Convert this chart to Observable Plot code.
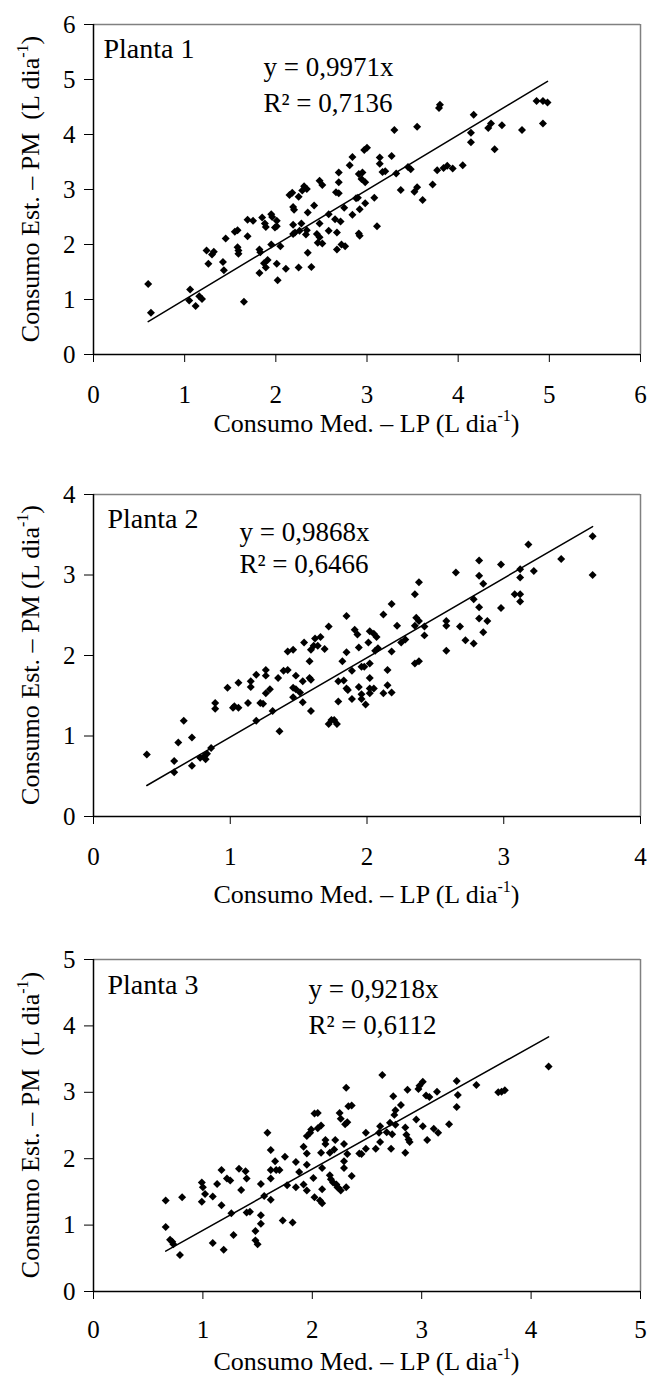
<!DOCTYPE html>
<html><head><meta charset="utf-8">
<script src="https://cdn.jsdelivr.net/npm/d3@7"></script>
<script src="https://cdn.jsdelivr.net/npm/@observablehq/plot@0.6"></script>
<style>
body{margin:0;background:#fff;}
#wrap{width:649px;}
svg{display:block;}
</style></head><body><div id="wrap"></div>
<script>
// Planta 1
const x1=[0.60,0.63,1.06,1.05,1.12,1.16,1.19,1.24,1.26,1.30,1.32,1.42,1.43,1.45,1.55,1.58,1.58,1.59,1.59,1.65,1.69,1.69,1.75,1.82,1.82,1.83,1.85,1.88,1.89,1.87,1.89,1.91,1.95,1.96,1.95,1.99,2.01,2.01,2.05,2.01,2.02,2.11,2.15,2.18,2.19,2.20,2.19,2.19,2.21,2.25,2.25,2.26,2.28,2.29,2.31,2.34,2.33,2.34,2.35,2.35,2.39,2.42,2.45,2.46,2.48,2.48,2.48,2.51,2.51,2.58,2.58,2.65,2.66,2.69,2.69,2.69,2.67,2.67,2.71,2.72,2.75,2.76,2.81,2.84,2.84,2.88,2.90,2.91,2.92,2.91,2.94,2.95,2.98,2.98,2.97,3.00,2.92,3.08,3.11,3.14,3.14,3.17,3.20,3.27,3.30,3.32,3.37,3.45,3.48,3.52,3.55,3.55,3.61,3.72,3.77,3.79,3.80,3.84,3.88,3.94,4.05,4.14,4.14,4.17,4.33,4.36,4.40,4.48,4.70,4.86,4.93,4.98,4.93];
const y1=[1.28,0.76,1.18,0.98,0.88,1.06,1.01,1.89,1.65,1.82,1.87,1.68,1.53,2.11,2.23,2.26,1.95,1.83,1.89,0.96,2.45,2.15,2.43,1.48,1.91,1.86,2.49,2.38,2.32,1.66,1.58,1.72,2.55,2.50,2.00,2.31,2.43,2.33,1.97,1.65,1.35,1.56,2.90,2.94,2.68,2.63,2.36,2.19,2.22,2.87,1.58,2.25,2.38,2.98,3.06,3.01,2.18,2.26,2.58,1.85,1.59,2.71,2.19,2.03,2.38,2.13,3.16,3.08,2.02,2.55,2.25,2.46,2.95,2.93,3.31,3.13,2.22,1.91,2.42,2.00,2.67,1.97,3.44,3.59,2.54,2.84,2.85,3.28,2.16,2.20,3.19,3.31,3.13,2.75,3.72,3.76,2.64,2.85,2.33,3.58,3.47,3.32,3.33,3.61,4.08,3.29,2.99,3.41,3.37,2.96,3.04,4.14,2.81,3.09,3.35,4.48,4.54,3.39,3.43,3.38,3.44,3.86,4.03,4.36,4.12,4.20,3.73,4.17,4.08,4.61,4.61,4.58,4.20];
// Planta 2
const x2=[0.39,0.59,0.59,0.62,0.66,0.72,0.72,0.78,0.81,0.82,0.83,0.86,0.89,0.89,0.98,1.02,1.03,1.06,1.06,1.13,1.15,1.15,1.19,1.19,1.22,1.24,1.26,1.26,1.26,1.29,1.31,1.36,1.35,1.39,1.42,1.42,1.46,1.46,1.46,1.48,1.48,1.51,1.53,1.53,1.54,1.58,1.58,1.59,1.59,1.59,1.61,1.62,1.64,1.66,1.69,1.72,1.72,1.74,1.76,1.78,1.79,1.79,1.82,1.83,1.85,1.85,1.85,1.86,1.89,1.89,1.91,1.93,1.94,1.94,1.96,1.96,1.96,1.98,1.99,2.01,2.02,2.02,2.02,2.02,2.02,2.05,2.05,2.06,2.07,2.08,2.12,2.12,2.15,2.15,2.18,2.18,2.18,2.22,2.25,2.28,2.35,2.35,2.35,2.36,2.38,2.38,2.38,2.42,2.42,2.58,2.58,2.58,2.65,2.68,2.72,2.78,2.78,2.82,2.82,2.82,2.82,2.85,2.85,2.88,2.98,2.98,3.08,3.12,3.12,3.12,3.12,3.18,3.22,3.42,3.65,3.65];
const y2=[0.77,0.69,0.55,0.92,1.19,0.98,0.63,0.73,0.75,0.71,0.78,0.85,1.41,1.34,1.60,1.35,1.37,1.66,1.35,1.41,1.61,1.68,1.76,1.19,1.41,1.40,1.82,1.75,1.53,1.58,1.31,1.06,1.72,1.81,1.82,2.05,2.07,1.60,1.48,1.75,1.58,1.54,1.42,1.68,2.16,1.93,1.72,1.70,1.31,2.07,2.12,2.21,2.12,2.23,2.08,2.36,1.15,1.20,1.20,1.15,1.43,1.68,1.93,1.69,2.49,2.04,1.59,1.57,1.46,1.81,2.32,2.26,2.10,1.61,1.52,1.46,1.86,1.86,1.39,2.16,2.30,1.90,1.72,1.59,1.53,1.59,2.27,2.06,2.23,2.09,2.51,1.53,1.82,1.63,2.64,2.05,1.54,2.37,2.16,2.20,2.76,2.37,1.90,2.47,2.91,2.43,1.93,2.25,2.36,2.43,2.37,2.06,3.03,2.36,2.19,2.70,2.15,3.18,2.99,2.60,2.46,2.29,2.89,2.43,3.13,2.59,2.76,3.07,2.97,2.76,2.67,3.38,3.05,3.20,3.48,3.00];
// Planta 3
const x3=[0.66,0.66,0.70,0.72,0.73,0.79,0.81,0.99,1.00,0.99,1.02,1.09,1.09,1.13,1.17,1.17,1.19,1.22,1.25,1.26,1.28,1.33,1.35,1.39,1.40,1.40,1.43,1.48,1.48,1.50,1.53,1.53,1.53,1.56,1.59,1.62,1.62,1.62,1.62,1.66,1.67,1.70,1.73,1.75,1.77,1.82,1.85,1.85,1.88,1.92,1.92,1.95,1.95,1.95,1.95,1.98,1.99,2.01,2.02,2.02,2.05,2.05,2.08,2.08,2.07,2.09,2.09,2.09,2.12,2.12,2.16,2.16,2.17,2.19,2.20,2.21,2.22,2.23,2.24,2.26,2.25,2.26,2.29,2.29,2.29,2.30,2.32,2.33,2.36,2.31,2.32,2.36,2.43,2.45,2.49,2.49,2.58,2.61,2.62,2.62,2.68,2.71,2.72,2.73,2.75,2.76,2.76,2.81,2.85,2.85,2.86,2.88,2.89,2.95,3.01,3.05,3.11,3.15,3.25,3.32,2.64,2.31,2.87,2.74,2.97,2.98,3.01,3.04,3.07,3.14,3.32,3.33,3.50,3.70,3.73,3.76,4.16];
const y3=[1.37,0.97,0.78,0.75,0.71,0.55,1.42,1.64,1.57,1.35,1.47,1.43,0.73,1.62,1.30,1.83,0.63,1.70,1.67,1.18,0.85,1.85,1.53,1.81,1.70,1.19,1.20,0.91,0.77,0.71,1.62,1.15,1.02,1.44,2.39,2.13,1.83,1.70,1.38,1.96,1.83,1.83,1.07,2.03,1.60,1.04,1.95,1.57,1.80,2.18,1.61,2.34,2.08,1.91,1.52,2.39,2.44,1.71,1.42,2.68,2.69,2.46,2.50,2.09,1.37,1.33,1.86,1.54,2.28,2.22,2.09,1.75,1.69,1.64,2.14,2.28,1.61,1.57,1.56,1.52,2.69,2.60,1.96,1.86,2.22,2.52,2.55,2.79,2.80,1.57,2.07,1.74,2.08,2.07,2.15,2.39,2.15,2.39,2.49,2.25,2.40,2.54,2.15,2.37,2.66,2.73,2.51,2.81,2.47,2.09,2.36,2.29,2.25,2.59,2.49,2.28,2.45,2.39,2.52,2.78,3.26,3.07,3.04,2.94,3.05,3.10,3.16,2.95,2.93,3.01,3.17,2.96,3.11,3.00,3.01,3.03,3.39];

const slopes=[0.9971,0.9868,0.9218];
const slopeLabels=["0,9971","0,9868","0,9218"];
const r2Labels=["0,7136","0,6466","0,6112"];
const plantLabels=["Planta 1","Planta 2","Planta 3"];
const xTicks=[[0,1,2,3,4,5,6],[0,1,2,3,4],[0,1,2,3,4,5]];
const yTicks=[[0,1,2,3,4,5,6],[0,1,2,3,4],[0,1,2,3,4,5]];
const xTitle="Consumo Med. – LP (L dia";
const yTitles=["Consumo Est. – PM  (L dia","Consumo Est. – PM (L dia","Consumo Est. – PM  (L dia"];

const layout=[
 {height:460, top:24, bottom:106, tickPad:23, titleOff:78, planta:[10,33], eq:[170,51], r2:[170,87]},
 {height:465, top:34, bottom:109, tickPad:23, titleOff:87, planta:[14,33], eq:[146,46], r2:[146,78]},
 {height:451, top:34, bottom:85, tickPad:21, titleOff:79, planta:[14,34], eq:[215,38], r2:[215,74]}
];
const W=649, ML=93, MR=9;
const FONT="'Liberation Serif','Times New Roman',serif";

function panel(i, xs, ys){
  const L=layout[i];
  const data=xs.map((x,k)=>({x, y:ys[k]}));
  const [xa,xb]=d3.extent(xs);
  const fit=[{x:xa,y:slopes[i]*xa},{x:xb,y:slopes[i]*xb}];
  const xmax=xTicks[i][xTicks[i].length-1];
  const ymax=yTicks[i][yTicks[i].length-1];
  const txt=(s,pos,fs)=>Plot.text([s],{frameAnchor:"top-left",dx:pos[0],dy:pos[1],textAnchor:"start",lineAnchor:"bottom",fontSize:fs,fill:"#000"});
  const svg=Plot.plot({
    width:W, height:L.height, marginLeft:ML, marginRight:MR, marginTop:L.top, marginBottom:L.bottom,
    style:{fontFamily:FONT, fontSize:"25px", color:"#000", background:"#fff", overflow:"visible"},
    x:{domain:[0,xmax]},
    y:{domain:[0,ymax]},
    marks:[
      Plot.ruleY([ymax],{stroke:"#808080",strokeWidth:1.5}),
      Plot.ruleX([xmax],{stroke:"#808080",strokeWidth:1.5}),
      Plot.axisX({ticks:xTicks[i], tickFormat:d=>String(d), tickSize:8, tickPadding:L.tickPad, label:null, fontSize:25}),
      Plot.axisY({ticks:yTicks[i], tickFormat:d=>String(d), tickSize:9, tickPadding:9, label:null, fontSize:25}),
      Plot.ruleY([0],{stroke:"#000",strokeWidth:1.5}),
      Plot.ruleX([0],{stroke:"#000",strokeWidth:1.5}),
      Plot.line(fit,{x:"x",y:"y",stroke:"#000",strokeWidth:1.5}),
      Plot.dot(data,{x:"x",y:"y",symbol:"diamond2",fill:"#000",stroke:null,r:3.6}),
      txt(plantLabels[i],L.planta,28),
      txt("y = "+slopeLabels[i]+"x",L.eq,27),
      txt("R² = "+r2Labels[i],L.r2,27)
    ]
  });
  const s=d3.select(svg);
  const bottomY=L.height-L.bottom;
  const cx=ML+(W-MR-ML)/2;
  const xt=s.append("text").attr("x",cx).attr("y",bottomY+L.titleOff).attr("text-anchor","middle")
    .attr("font-size",26).attr("fill","#000").style("white-space","pre").style("font-family",FONT);
  xt.append("tspan").text(xTitle);
  xt.append("tspan").attr("dy",-11).attr("font-size",16).text("-1");
  xt.append("tspan").attr("dy",11).attr("font-size",26).text(")");
  const cy=(L.top+bottomY)/2;
  const yt=s.append("text").attr("transform",`translate(39,${cy}) rotate(-90)`).attr("text-anchor","middle")
    .attr("font-size",26).attr("fill","#000").style("white-space","pre").style("font-family",FONT);
  yt.append("tspan").text(yTitles[i]);
  yt.append("tspan").attr("dy",-11).attr("font-size",16).text("-1");
  yt.append("tspan").attr("dy",11).attr("font-size",26).text(")");
  document.getElementById("wrap").appendChild(svg);
}
panel(0,x1,y1);
panel(1,x2,y2);
panel(2,x3,y3);
</script></body></html>
